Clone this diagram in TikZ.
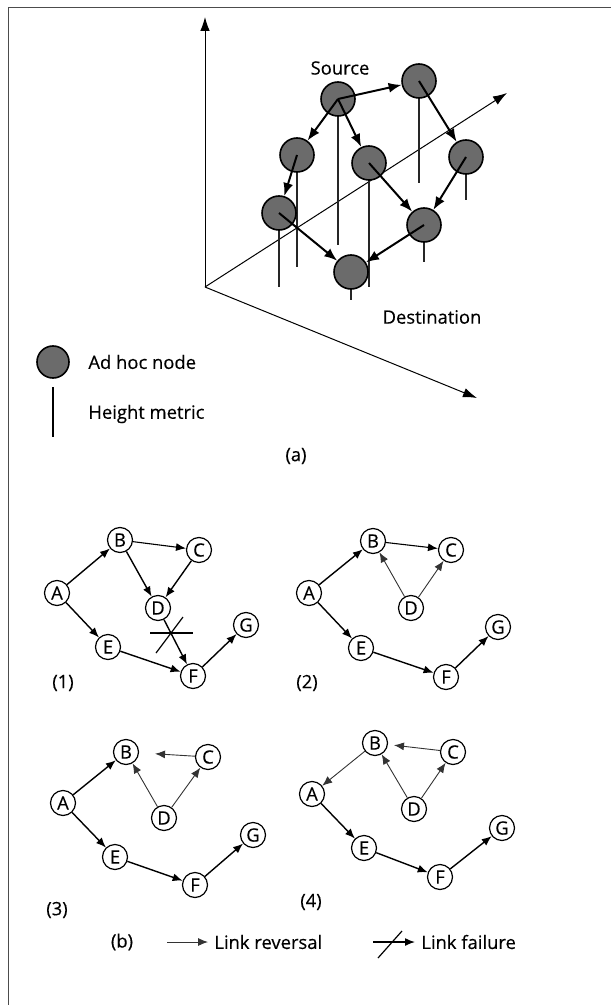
\documentclass[tikz,border=0pt]{standalone}
\usepackage{fontspec}
\setmainfont{Open Sans}[FakeBold=0.35]
\usetikzlibrary{arrows.meta}
\begin{document}
\begin{tikzpicture}[x=0.5pt,y=-0.5pt,
  font=\fontsize{9.2}{11}\selectfont,
  ball/.style={circle,draw=black,line width=0.8pt,fill=black!58,minimum size=17pt,inner sep=0pt},
  vnode/.style={circle,draw=black,line width=0.6pt,fill=white,minimum size=12.5pt,inner sep=0pt},
  axis/.style={line width=0.5pt,-{Latex[length=7pt,width=4.8pt]}},
  hline/.style={line width=0.6pt,black!85},
  aedge/.style={line width=1pt,-{Latex[length=6.5pt,width=5pt]}},
  gedge/.style={line width=0.7pt,-{Latex[length=5pt,width=4pt]}},
  redge/.style={line width=0.45pt,black!80,-{Latex[length=5pt,width=4pt]}},
  lbl/.style={inner sep=0pt}
]
\useasboundingbox (0,0) rectangle (611,1005);
% frame
\draw[black!70,line width=0.5pt] (8,1005) -- (8,8) -- (611,8);

% ---------- (a) ----------
\coordinate (o) at (205,287);
\coordinate (zt) at (205,17);
\coordinate (yt) at (507,93);
\coordinate (xt) at (477,398);
\draw[axis] (o) -- (zt);
\draw[axis] (o) -- (yt);
\draw[axis] (o) -- (xt);

% ball centres and height metric ends
\coordinate (csrc) at (338,99);   \coordinate (hsrc) at (338,245);
\coordinate (ctr)  at (419,81);   \coordinate (htr)  at (419,183);
\coordinate (clu)  at (297,155);  \coordinate (hlu)  at (297,267);
\coordinate (cmid) at (369,163);  \coordinate (hmid) at (369,287);
\coordinate (crt)  at (466,157);  \coordinate (hrt)  at (466,200);
\coordinate (cll)  at (279,213);  \coordinate (hll)  at (279,287);
\coordinate (clr)  at (424,225);  \coordinate (hlr)  at (424,262);
\coordinate (cbt)  at (351,272);  \coordinate (hbt)  at (351,300);
\foreach \n in {src,tr,lu,mid,rt,ll,lr,bt}{
  \draw[hline] (c\n) -- (h\n);
}
\foreach \n in {src,tr,lu,mid,rt,ll,lr,bt}{
  \node[ball] (\n) at (c\n) {};
}
\draw[aedge] (src.center) -- (tr);
\draw[aedge] (src.center) -- (lu);
\draw[aedge] (src.center) -- (mid);
\draw[aedge] (tr.center) -- (rt);
\draw[aedge] (lu.center) -- (ll);
\draw[aedge] (mid.center) -- (lr);
\draw[aedge] (rt.center) -- (lr);
\draw[aedge] (ll.center) -- (bt);
\draw[aedge] (lr.center) -- (bt);

\node[lbl] (srclbl) at (340,68) {Source};
\node[lbl] (dstlbl) at (432,317) {Destination};

% legend (a)
\node[ball,minimum size=16pt] (legball) at (53,362) {};
\node[lbl,anchor=west] (legballt) at (88,362) {Ad hoc node};
\coordinate (lh1) at (53,387);
\coordinate (lh2) at (53,437);
\draw[line width=0.7pt] (lh1) -- (lh2);
\node[lbl,anchor=west] (leght) at (88,414) {Height metric};
\node[lbl] (capa) at (296,456) {(a)};

% ---------- (b) graph 1 ----------
\node[vnode] (A1) at (57,593) {A};
\node[vnode] (B1) at (120,540) {B};
\node[vnode] (C1) at (199,550) {C};
\node[vnode] (D1) at (158,608) {D};
\node[vnode] (E1) at (108,647) {E};
\node[vnode] (F1) at (193,676) {F};
\node[vnode] (G1) at (246,625) {G};
\draw[gedge] (A1) -- (B1);
\draw[gedge] (A1) -- (E1);
\draw[gedge,line width=0.55pt] (B1) -- (C1);
\draw[gedge] (B1) -- (D1);
\draw[gedge] (C1) -- (D1);
\draw[gedge] (D1) -- (F1);
\draw[gedge] (E1) -- (F1);
\draw[gedge] (F1) -- (G1);
\coordinate (xa1) at (150,633);
\coordinate (xa2) at (193,633);
\coordinate (xb1) at (183,617);
\coordinate (xb2) at (156,653);
\draw[line width=0.6pt] (xa1) -- (xa2);
\draw[line width=0.6pt] (xb1) -- (xb2);
\node[lbl] (cap1) at (63,683) {(1)};

% ---------- graph 2 ----------
\node[vnode] (A2) at (309,593) {A};
\node[vnode] (B2) at (373,541) {B};
\node[vnode] (C2) at (451,550) {C};
\node[vnode] (D2) at (411,608) {D};
\node[vnode] (E2) at (361,648) {E};
\node[vnode] (F2) at (446,677) {F};
\node[vnode] (G2) at (498,627) {G};
\draw[gedge] (A2) -- (B2);
\draw[gedge] (A2) -- (E2);
\draw[gedge,line width=0.55pt] (B2) -- (C2);
\draw[redge] (D2) -- (B2);
\draw[redge] (D2) -- (C2);
\draw[gedge] (E2) -- (F2);
\draw[gedge] (F2) -- (G2);
\node[lbl] (cap2) at (307,683) {(2)};

% ---------- graph 3 ----------
\node[vnode] (A3) at (63,803) {A};
\node[vnode] (B3) at (126,752) {B};
\node[vnode] (C3) at (208,757) {C};
\node[vnode] (D3) at (164,818) {D};
\node[vnode] (E3) at (115,857) {E};
\node[vnode] (F3) at (195,885) {F};
\node[vnode] (G3) at (253,835) {G};
\draw[gedge] (A3) -- (B3);
\draw[gedge] (A3) -- (E3);
\draw[redge,shorten >=8pt] (C3) -- (B3);
\draw[redge] (D3) -- (B3);
\draw[redge] (D3) -- (C3);
\draw[gedge] (E3) -- (F3);
\draw[gedge] (F3) -- (G3);
\node[lbl] (cap3) at (57,910) {(3)};

% ---------- graph 4 ----------
\node[vnode] (A4) at (312,794) {A};
\node[vnode] (B4) at (375,743) {B};
\node[vnode] (C4) at (453,752) {C};
\node[vnode] (D4) at (414,809) {D};
\node[vnode] (E4) at (364,848) {E};
\node[vnode] (F4) at (440,877) {F};
\node[vnode] (G4) at (502,828) {G};
\draw[redge] (B4) -- (A4);
\draw[gedge] (A4) -- (E4);
\draw[redge,shorten >=3pt] (C4) -- (B4);
\draw[redge] (D4) -- (B4);
\draw[redge] (D4) -- (C4);
\draw[gedge] (E4) -- (F4);
\draw[gedge] (F4) -- (G4);
\node[lbl] (cap4) at (311,902) {(4)};

% ---------- legend (b) ----------
\node[lbl] (capb) at (122,942) {(b)};
\coordinate (lr1) at (167,942);
\coordinate (lr2) at (208,942);
\draw[redge] (lr1) -- (lr2);
\node[lbl,anchor=west] (lrt) at (214,942) {Link reversal};
\coordinate (lf1) at (373,942);
\coordinate (lf2) at (415,942);
\draw[gedge] (lf1) -- (lf2);
\coordinate (lf3) at (402,931);
\coordinate (lf4) at (378,958);
\draw[line width=0.6pt] (lf3) -- (lf4);
\node[lbl,anchor=west] (lft) at (421,942) {Link failure};
\end{tikzpicture}
\end{document}
